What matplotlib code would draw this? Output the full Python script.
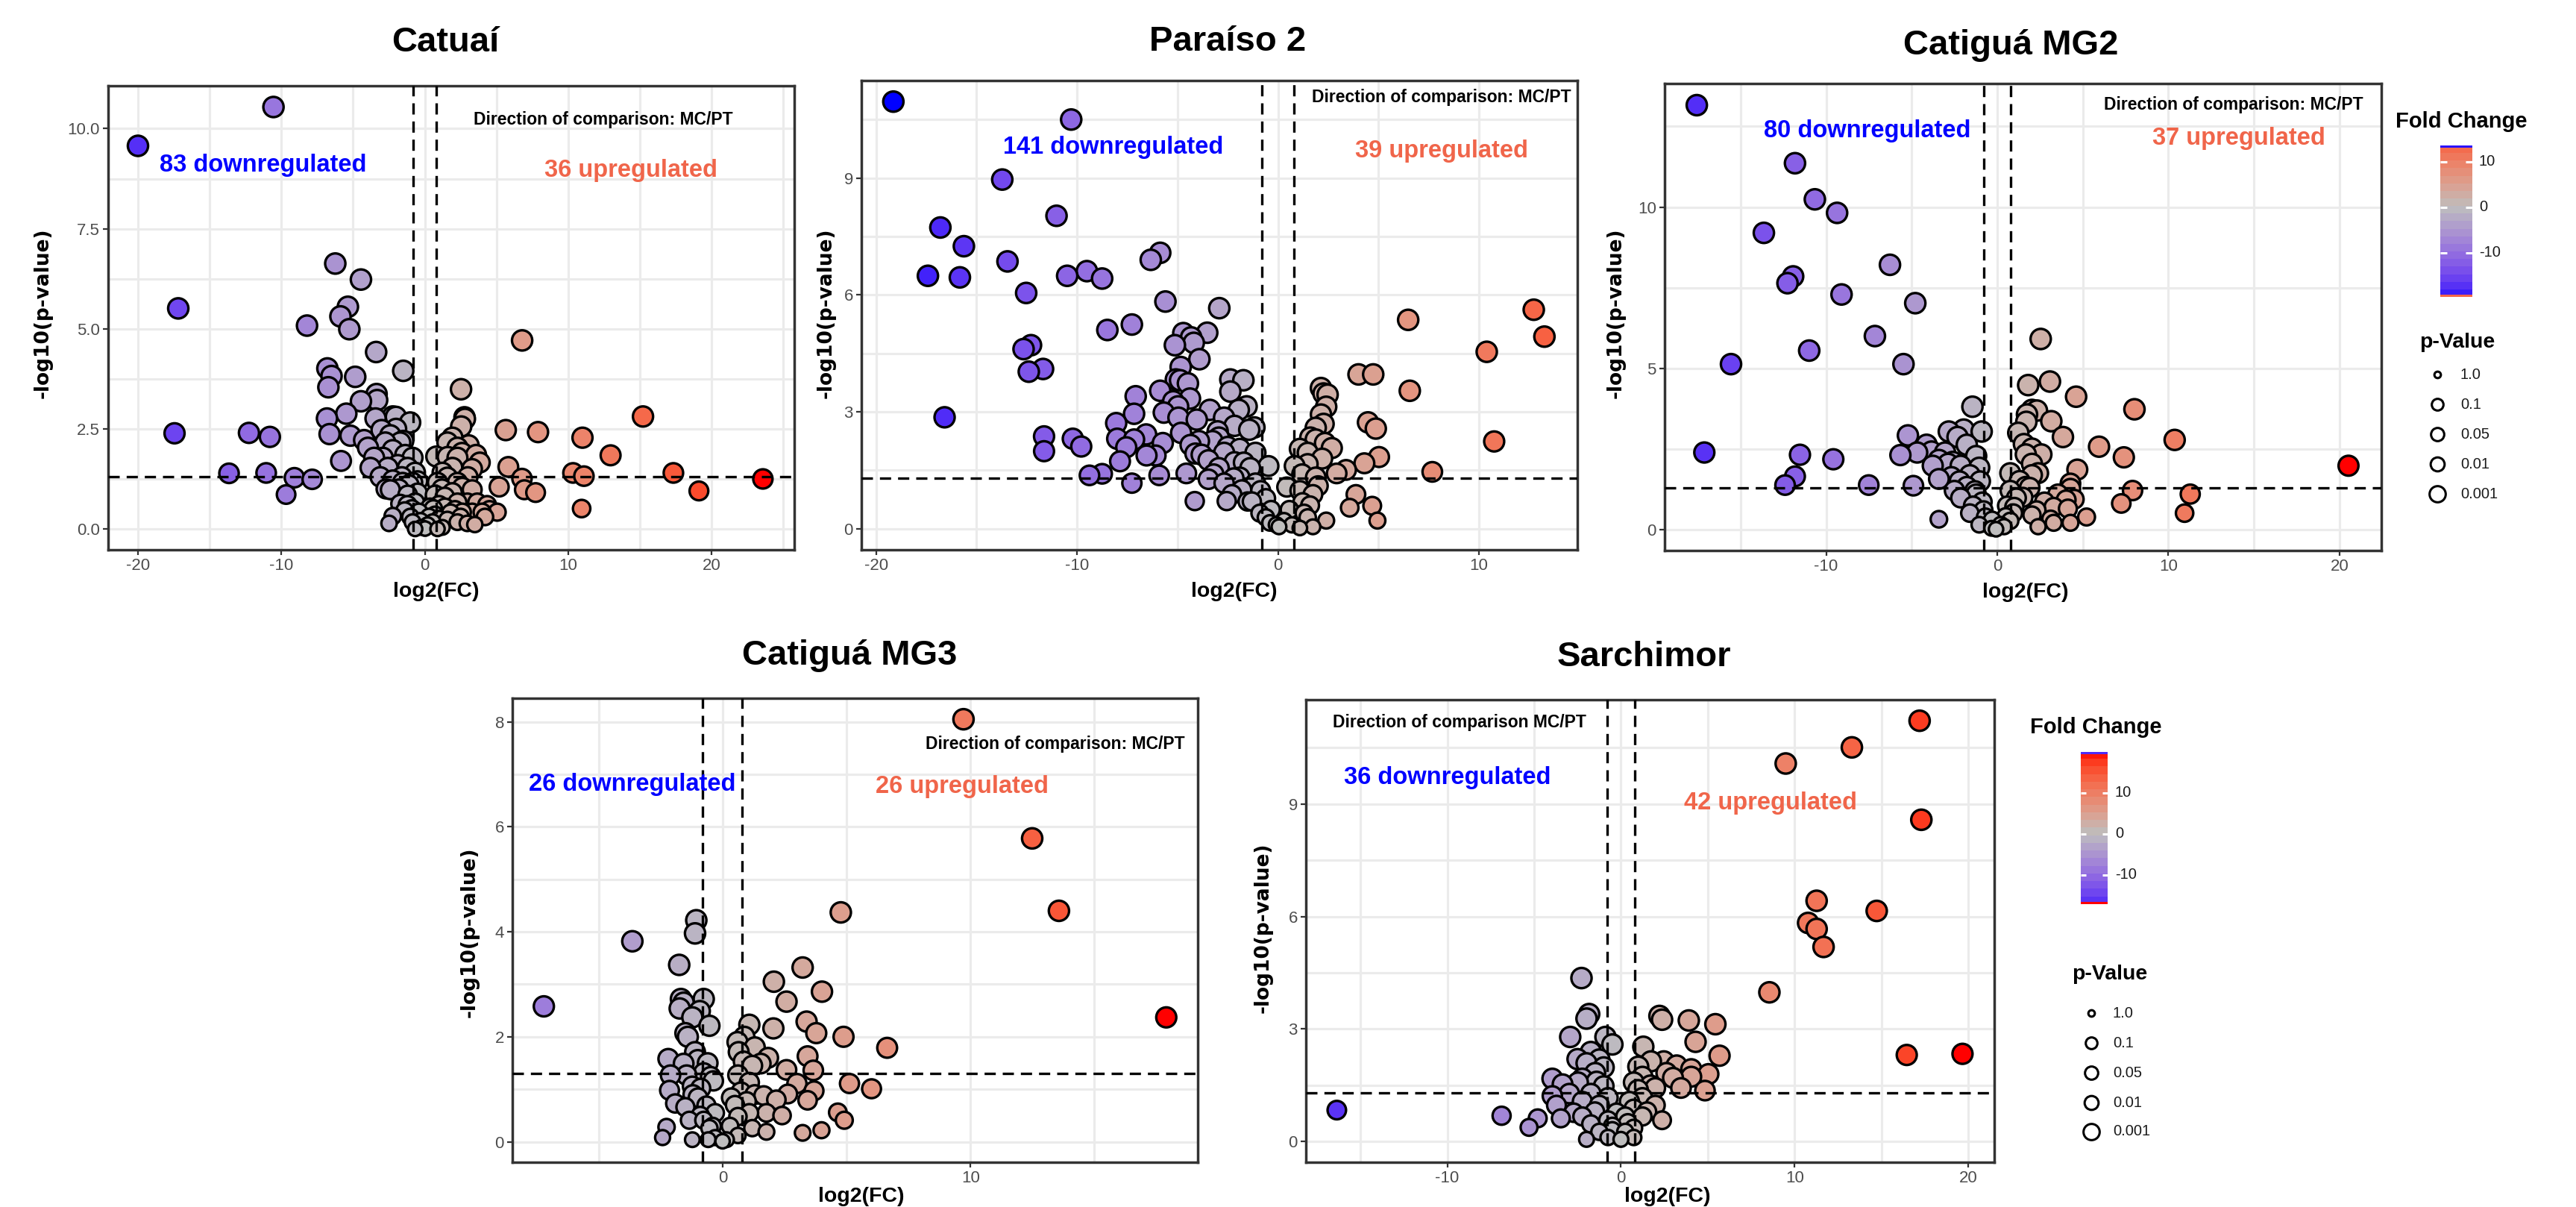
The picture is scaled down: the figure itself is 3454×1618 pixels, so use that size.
import numpy as np
import matplotlib
matplotlib.use("Agg")
import matplotlib.pyplot as plt
from matplotlib.colors import ListedColormap, Normalize

plt.rcParams['font.family'] = ['Liberation Sans', 'DejaVu Sans']

W, H, DPI = 3455, 1618, 100

# ---------------- data: log2(FC) and -log10(p-value) ----------------
catuai_fc = [-20.0, -10.55, -17.19, -17.45, -12.26, -10.80, -13.65, -11.06, -9.09, -7.85, -9.67,
             -6.24, -4.45, -5.36, -5.88, -5.26, -8.21, -3.39, -1.50, -6.79, -6.50, -4.85, -6.72,
             -3.36, -3.32, -4.45, -5.47, -6.82, -6.64, -5.18, -5.84, -3.43, -2.23, -2.01, -1.02,
             -4.23, -3.96, -3.53, -3.79, -3.01, -2.75, -2.40, -1.71, -1.36, -0.85, -2.23, -2.92,
             -2.58, -1.88, -1.19, -0.67, -2.23, -1.54, -0.85, -2.40, -1.19, -1.71, -2.23, -2.49,
             -0.67, -0.41, -0.85, -0.24, 0.02, 0.55, 0.89, -0.67, 0.37, 0.72, 0.89, 1.23, 0.80,
             1.58, 1.93, 2.28, 2.53, 2.80, 2.54, 3.06, 3.58, 3.84, 2.28, 1.93, 1.58, 2.28, 1.93,
             2.62, 3.31, 2.28, 2.97, 3.66, 4.35, 5.05, 4.52, 1.41, 1.58, 2.28, 2.97, 3.49, 1.23,
             0.72, 2.11, 2.62, 3.31, 4.00, 5.65, 7.90, 11.00, 5.83, 6.78, 6.95, 7.73, 5.19, 10.34,
             11.10, 10.94, 6.79, 15.22, 12.96, 17.34, 23.58, 19.12, 2.77, -1.80, -1.40, -0.50,
             -1.00, 0.30, 1.00, 1.20, -2.00, -1.50, -1.20,
             -1.60, -1.10, -0.90, -0.30, 0.20, 0.60, 1.00, 1.40, 1.80, 2.50, 3.00, 2.60, 3.30,
             4.20, 1.60, -2.70, -3.10, -0.50]
catuai_lp = [9.57, 10.54, 5.51, 2.39, 2.40, 2.30, 1.39, 1.40, 1.28, 1.24, 0.86,
             6.63, 6.23, 5.55, 5.31, 4.99, 5.08, 4.42, 3.95, 4.01, 3.82, 3.80, 3.54,
             3.37, 3.22, 3.19, 2.88, 2.76, 2.37, 2.33, 1.70, 2.76, 2.81, 2.80, 2.66,
             2.22, 2.03, 1.78, 1.53, 2.47, 2.16, 2.34, 2.16, 1.85, 1.78, 1.97, 1.78,
             1.53, 1.60, 1.53, 1.41, 1.22, 1.16, 1.16, 0.98, 0.85, 0.63, 0.32, 0.14,
             0.66, 0.42, 0.17, 0.04, 0.01, 0.17, 0.00, 0.00, 0.54, 0.85, 1.16, 1.41, 1.81,
             2.16, 2.28, 2.03, 3.49, 2.75, 2.56, 2.09, 1.85, 1.66, 1.78, 1.53, 1.29, 1.16, 0.91,
             1.04, 0.98, 0.66, 0.66, 0.66, 0.60, 0.42, 0.48, 0.54, 0.23, 0.17, 0.14, 0.11, 0.04,
             0.35, 0.48, 0.42, 0.42, 0.42, 2.47, 2.42, 2.28, 1.55, 1.26, 0.98, 0.91, 1.05, 1.40,
             1.32, 0.51, 4.71, 2.81, 1.84, 1.40, 1.25, 0.95, 2.79, 1.00, 0.45, 0.90,
             0.30, 0.30, 0.60, 1.00, 2.50, 2.20, 0.60,
             1.30, 1.10, 0.50, 0.20, 0.10, 0.50, 0.25, 0.80, 0.40, 0.30, 1.30, 1.90, 1.50,
             0.30, 1.80, 1.00, 1.30, 1.20]

paraiso_fc = [-19.14, -10.29, -13.72, -11.02, -16.80, -15.63, -13.46, -17.42, -15.83, -12.53, -10.49,
              -9.51, -8.75, -6.33, -5.86, -5.60, -2.92, -8.49, -7.27, -12.66, -12.29, -12.40, -11.69,
              -16.59, -11.64, -11.64, -10.21, -9.79, -9.38, -8.75, -7.27, -8.05, -8.00, -7.86, -7.16,
              -7.08, -7.55, -7.16, -6.56, -6.54, -6.09, -5.73, -5.86, -5.68, -5.91, -5.13, -4.71,
              -4.32, -4.19, -3.52, -3.91, -4.84, -4.87, -5.08, -4.48, -5.21, -4.97, -4.38, -4.95,
              -4.04, -4.82, -4.35, -3.93, -4.11, -4.56, -4.14, -3.39, -3.26, -2.37, -2.37, -1.72,
              -2.68, -1.95, -1.56, -2.16, -1.43, -1.17, -2.94, -2.68, -1.90, -1.12, -3.46, -2.94,
              -2.16, -1.38, -0.47, -3.46, -2.68, -1.90, -1.12, -2.55, -1.51, -2.29, -0.86, -0.60,
              -0.34, -0.60, -0.08, 0.05, 0.57, 0.83, 1.09, 0.44, 1.09, 1.22, 1.09, 1.74, 2.40,
              1.48, 1.74, 1.88, 1.48, 1.61, 1.88, 2.27, 2.14, 2.40, 2.14, 2.27, 2.47, 1.88, 2.34,
              2.68, 1.48, 2.92, 3.39, 4.01, 4.74, 4.48, 4.87, 4.30, 5.03, 3.88, 3.57, 4.69, 4.95,
              6.48, 6.56, 7.68, 10.39, 10.76, 12.73, 13.26,
              -3.80, -3.20, -2.20, -1.80, -1.30, -0.90, -0.40, 0.30, 0.70, 1.30, 1.60, 2.00,
              1.20, 2.20, -2.50, -3.00, -1.70]
paraiso_lp = [10.96, 10.50, 8.96, 8.03, 7.73, 7.25, 6.86, 6.49, 6.45, 6.05, 6.49,
              6.61, 6.42, 6.90, 7.08, 5.83, 5.66, 5.10, 5.24, 4.61, 4.71, 4.03, 4.10,
              2.86, 2.37, 1.99, 2.31, 2.11, 1.37, 1.41, 1.17, 2.71, 2.31, 1.73, 2.95,
              3.40, 2.09, 2.29, 2.42, 1.88, 1.88, 2.20, 3.54, 2.98, 1.37, 4.71, 5.02,
              4.91, 4.77, 5.03, 4.35, 4.15, 3.81, 3.83, 3.73, 3.27, 3.14, 3.34, 2.85,
              2.80, 2.46, 2.15, 2.25, 1.93, 1.42, 0.71, 3.05, 2.25, 3.83, 3.52, 3.81,
              2.85, 3.05, 3.14, 2.64, 2.54, 2.60, 2.34, 1.95, 2.05, 1.95, 1.76, 1.56,
              1.71, 1.56, 1.61, 1.27, 1.17, 1.32, 1.17, 0.71, 0.70, 0.88, 0.98, 0.78,
              0.49, 0.29, 0.10, 0.05, 0.49, 1.61, 2.05, 1.07, 0.98, 0.68, 0.02, 0.05, 0.21,
              0.29, 0.88, 1.32, 1.95, 2.34, 2.59, 2.69, 2.93, 3.13, 3.61, 3.47, 3.44, 2.29, 2.20,
              2.07, 1.66, 1.42, 1.51, 3.96, 3.96, 2.73, 2.57, 1.68, 1.84, 0.88, 0.54, 0.59, 0.21,
              5.36, 3.54, 1.46, 4.54, 2.24, 5.62, 4.93,
              1.90, 1.40, 1.30, 1.00, 0.70, 0.40, 0.15, 0.20, 0.10, 0.40, 0.60, 1.10,
              1.40, 1.80, 2.10, 2.50, 1.70]

mg2_fc = [-17.56, -11.82, -10.66, -9.36, -13.64, -6.27, -11.93, -12.26, -9.10, -4.79, -7.15,
          -10.99, -15.56, -5.48, -17.12, -11.53, -9.58, -11.82, -12.40, -7.51, -4.90, -3.41,
          -1.45, -0.91, -5.22, -5.66, -4.13, -4.68, -3.84, -2.83, -1.96, -2.32, -1.78, -1.23,
          -3.05, -3.41, -3.77, -2.87, -2.14, -3.41, -2.68, -1.60, -1.05, -2.50, -1.78, -1.23,
          -2.14, -1.41, -0.87, -1.60, -0.69, -1.05, -0.33, -0.07, 0.40, 0.76, 0.94, 0.58, 1.12,
          0.76, 1.67, 1.31, 2.03, 0.76, 2.39, 2.03, 1.67, 2.58, 1.56, 1.23, 2.32, 1.74, 1.70,
          3.16, 2.03, 1.81, 3.08, 4.61, 2.54, 3.84, 5.95, 7.40, 8.02, 10.37, 4.68, 4.28, 4.28,
          3.55, 2.76, 4.03, 4.50, 7.91, 11.28, 7.25, 10.95, 5.22, 4.13, 3.12, 3.30, 4.28, 2.39,
          2.03, 20.53, 2.03,
          -2.20, -1.30, -0.80, -0.30, 0.20, 0.50, 1.00, 1.50, 2.30, 3.30, -2.60, -1.00, 1.90]
mg2_lp = [13.16, 11.36, 10.24, 9.82, 9.20, 8.21, 7.85, 7.64, 7.29, 7.02, 6.00,
          5.55, 5.13, 5.13, 2.39, 2.32, 2.18, 1.65, 1.38, 1.38, 1.36, 0.32,
          3.81, 3.04, 2.92, 2.31, 2.63, 2.39, 2.42, 3.04, 3.10, 2.87, 2.63, 2.28,
          2.39, 2.16, 1.98, 2.04, 1.98, 1.57, 1.63, 1.69, 1.92, 1.21, 1.33, 1.10,
          0.98, 0.74, 0.86, 0.51, 0.39, 0.15, 0.04, 0.01, 0.09, 0.27, 0.51, 0.74, 0.98,
          1.21, 1.33, 1.51, 1.69, 1.75, 1.75, 2.04, 2.33, 2.33, 2.65, 3.00, 3.69, 3.57, 3.34,
          3.36, 3.71, 4.48, 4.59, 4.12, 5.91, 2.87, 2.57, 2.24, 3.73, 2.78, 1.86, 1.43, 1.27,
          1.10, 0.86, 0.92, 0.94, 1.21, 1.10, 0.81, 0.51, 0.39, 0.65, 0.33, 0.21, 0.21, 0.09,
          0.45, 1.98, 2.51,
          1.50, 1.20, 0.60, 0.30, 0.15, 0.40, 0.70, 1.00, 0.60, 0.70, 2.10, 1.50, 1.30]

mg3_fc = [9.72, 12.49, 13.57, 17.90, 4.77, -3.64, -7.21, -1.06, -1.11, -1.75, 3.23, 2.07, 4.01,
          2.58, 3.39, 3.78, 2.05, 4.88, 6.64, 3.43, 3.66, 2.58, 5.12, 6.01, 3.00, 3.69, 2.63,
          2.17, 3.43, 4.65, 4.91, 3.23, 3.99, 1.08, 0.88, 0.65, 0.85, 1.20, 1.84, 1.54, 0.62,
          1.08, 0.74, 0.35, 0.97, 1.66, 1.08, 0.62, 1.77, 1.20, 1.77, 0.62, 0.16, 0.00, -0.30,
          -0.53, -0.76, -0.30, -0.65, -1.22, -0.58, -0.76, -1.68, -1.57, -1.73, -0.92, -1.22,
          -0.53, -1.50, -1.40, -1.11, -2.19, -1.57, -1.00, -2.10, -1.45, -0.76, -0.48, -2.14,
          -1.22, -1.91, -0.99, -1.50, -1.34, -2.26, -2.42, -0.37, -0.88,
          -0.90, -0.40, 0.30, 0.50, 1.30, 2.40, -1.20, -0.60, 0.60, 1.30]
mg3_lp = [8.05, 5.78, 4.40, 2.37, 4.37, 3.82, 2.58, 4.22, 3.97, 3.37, 3.32, 3.05, 2.86,
          2.67, 2.29, 2.07, 2.16, 2.00, 1.79, 1.63, 1.36, 1.37, 1.11, 1.01, 1.11, 0.97, 0.91,
          0.80, 0.79, 0.56, 0.41, 0.17, 0.22, 2.23, 2.00, 1.71, 1.53, 1.45, 1.60, 1.49, 1.27,
          1.13, 0.95, 0.84, 0.77, 0.88, 0.55, 0.48, 0.55, 0.26, 0.19, 0.12, 0.04, 0.01, 0.08,
          0.26, 0.41, 0.55, 0.69, 0.04, 0.04, 2.72, 2.72, 2.65, 2.54, 2.49, 2.37,
          2.21, 2.07, 2.00, 1.71, 1.58, 1.49, 1.56, 1.27, 1.27, 1.31, 1.24, 0.98,
          1.06, 0.73, 0.84, 0.66, 0.41, 0.28, 0.08, 1.16, 1.02,
          0.50, 0.30, 0.30, 0.70, 0.90, 0.50, 0.90, 1.50, 1.90, 1.80]

sarchimor_fc = [17.20, 13.30, 9.49, 17.30, 11.27, 14.73, 10.78, 11.27, 11.67, 8.55, 16.46, 19.67,
                -16.36, -6.87, -4.79, -5.29, -2.27, -1.83, -1.98, -2.92, -0.89, -0.49, 2.22, 2.37,
                3.91, 5.44, 4.30, 5.68, 1.29, 1.73, 2.47, 3.21, 4.05, 5.04, 2.62, 4.05, 1.24, 1.98,
                3.46, 4.84, 0.74, 1.24, 1.98, 2.37, 0.74, 1.24, 0.74, 0.74, 0.00, -0.74, -1.24,
                -1.98, -1.73, -2.22, -0.74, -0.25, -1.24, -2.22, -1.73, -0.99, -2.22, -1.48, -1.98,
                -1.24, -1.73, -0.99, -3.95, -3.36, -3.95, -3.71, -3.46, -2.72, -2.97, -2.47, -0.74,
                -0.49, 0.25, 0.25, 0.49, 0.99,
                -1.50, -0.50, 0.40, 1.50, -1.40, -2.50, 1.00, 1.70, 3.00]
sarchimor_lp = [11.22, 10.51, 10.08, 8.58, 6.42, 6.15, 5.83, 5.67, 5.19, 3.98, 2.31, 2.34,
                0.84, 0.69, 0.62, 0.38, 4.36, 3.40, 3.28, 2.79, 2.79, 2.59, 3.35, 3.25,
                3.23, 3.13, 2.66, 2.29, 2.53, 2.14, 2.14, 2.03, 1.93, 1.80, 1.83, 1.73, 1.73, 1.43,
                1.43, 1.36, 1.58, 1.17, 0.97, 0.57, 0.87, 0.67, 0.36, 0.11, 0.06, 0.11, 0.26,
                0.06, 0.47, 0.67, 0.57, 0.77, 0.97, 1.07, 1.28, 1.48, 1.68, 1.83, 2.09,
                2.19, 2.39, 1.98, 1.68, 1.53, 1.22, 0.97, 0.62, 0.77, 1.28, 1.58, 1.17,
                0.41, 0.26, 0.67, 1.07, 1.38,
                0.80, 0.30, 0.50, 0.80, 1.60, 2.20, 2.00, 1.50, 1.70]

titles = ["Catuaí", "Paraíso 2", "Catiguá MG2", "Catiguá MG3", "Sarchimor"]
down_labels = ["83 downregulated", "141 downregulated", "80 downregulated", "26 downregulated", "36 downregulated"]
up_labels = ["36 upregulated", "39 upregulated", "37 upregulated", "26 upregulated", "42 upregulated"]
direction_labels = ["Direction of comparison: MC/PT"] * 4 + ["Direction of comparison MC/PT"]
pvalue_breaks = ["1.0", "0.1", "0.05", "0.01", "0.001"]
fc_breaks = [10, 0, -10]

# ---------------- colour scale (Lab interpolation blue - grey - red) ----------------
M = np.array([[0.4124564, 0.3575761, 0.1804375],
              [0.2126729, 0.7151522, 0.0721750],
              [0.0193339, 0.1191920, 0.9503041]])
Minv = np.linalg.inv(M)
WHITE = np.array([0.95047, 1.0, 1.08883])


def srgb_to_lab(rgb):
    rgb = np.asarray(rgb, float)
    lin = np.where(rgb <= 0.04045, rgb / 12.92, ((rgb + 0.055) / 1.055) ** 2.4)
    xyz = (M @ lin) / WHITE
    f = np.where(xyz > 0.008856, np.cbrt(xyz), 7.787 * xyz + 16 / 116)
    return np.array([116 * f[1] - 16, 500 * (f[0] - f[1]), 200 * (f[1] - f[2])])


def lab_to_srgb(lab):
    L, a, b = lab
    fy = (L + 16) / 116
    f = np.array([fy + a / 500, fy, fy - b / 200])
    xyz = np.where(f ** 3 > 0.008856, f ** 3, (f - 16 / 116) / 7.787) * WHITE
    lin = np.clip(Minv @ xyz, 0, 1)
    return np.clip(np.where(lin <= 0.0031308, 12.92 * lin, 1.055 * lin ** (1 / 2.4) - 0.055), 0, 1)


LAB_BLUE = srgb_to_lab([0, 0, 1])
LAB_GREY = srgb_to_lab(np.array([190, 190, 190]) / 255)
LAB_RED = srgb_to_lab([1, 0, 0])
cols = []
for t in np.linspace(-1, 1, 513):
    lab = LAB_GREY + (LAB_BLUE - LAB_GREY) * (-t) if t < 0 else LAB_GREY + (LAB_RED - LAB_GREY) * t
    cols.append(lab_to_srgb(lab))
CMAP = ListedColormap(cols)

# ---------------- figure ----------------
fig = plt.figure(figsize=(W / DPI, H / DPI), dpi=DPI)
fig.patch.set_facecolor("white")


def rect(l, t, r, b):
    return [l / W, 1 - b / H, (r - l) / W, (b - t) / H]


EDGE_PT = 2.4
EDGE_PX = EDGE_PT / 0.72


def point_size(lp):
    d = 22.5 + 8 * (1 - np.exp(-np.asarray(lp) / 0.7))
    return ((d - EDGE_PX) * 0.72) ** 2


panels = [
    dict(box=(145, 115, 1065, 737), xlim=(-22.08, 25.77), ylim=(-0.52, 11.07),
         xmaj=[-20, -10, 0, 10, 20], xmin=[-15, -5, 5, 15, 25],
         ymaj=[0, 2.5, 5, 7.5, 10], ymin=[1.25, 3.75, 6.25, 8.75], yfmt="{:.1f}",
         down=(-11.3, 9.08), up=(14.4, 8.96), dirn=(12.45, 10.22),
         title=(597, 57), ylab=(58, 420), xlab=(585, 780)),
    dict(box=(1155, 108, 2115, 737), xlim=(-20.73, 14.9), ylim=(-0.54, 11.5),
         xmaj=[-20, -10, 0, 10], xmin=[-15, -5, 5],
         ymaj=[0, 3, 6, 9], ymin=[1.5, 4.5, 7.5, 10.5], yfmt="{:.0f}",
         down=(-8.2, 9.79), up=(8.13, 9.70), dirn=(8.13, 11.06),
         title=(1646, 56), ylab=(1108, 420), xlab=(1655, 780)),
    dict(box=(2232, 112, 3193, 738), xlim=(-19.44, 22.45), ylim=(-0.65, 13.83),
         xmaj=[-10, 0, 10, 20], xmin=[-15, -5, 5, 15],
         ymaj=[0, 5, 10], ymin=[2.5, 7.5, 12.5], yfmt="{:.0f}",
         down=(-7.58, 12.36), up=(14.1, 12.12), dirn=(13.8, 13.18),
         title=(2696, 61), ylab=(2167, 420), xlab=(2716, 781)),
    dict(box=(687, 936, 1606, 1558), xlim=(-8.48, 19.17), ylim=(-0.39, 8.45),
         xmaj=[0, 10], xmin=[-5, 5, 15],
         ymaj=[0, 2, 4, 6, 8], ymin=[1, 3, 5, 7], yfmt="{:.0f}",
         down=(-3.64, 6.81), up=(9.66, 6.77), dirn=(13.41, 7.57),
         title=(1139, 879), ylab=(630, 1250), xlab=(1155, 1591)),
    dict(box=(1751, 938, 2674, 1558), xlim=(-18.14, 21.5), ylim=(-0.55, 11.78),
         xmaj=[-10, 0, 10, 20], xmin=[-15, -5, 5, 15],
         ymaj=[0, 3, 6, 9], ymin=[1.5, 4.5, 7.5, 10.5], yfmt="{:.0f}",
         down=(-10.0, 9.71), up=(8.6, 9.02), dirn=(-9.3, 11.17),
         title=(2204, 881), ylab=(1694, 1244), xlab=(2236, 1591)),
]
series = [(catuai_fc, catuai_lp), (paraiso_fc, paraiso_lp), (mg2_fc, mg2_lp),
          (mg3_fc, mg3_lp), (sarchimor_fc, sarchimor_lp)]

FRAME = "#333333"
UP_COLOR = "#F0654A"
DASH = (0, (4.5, 2.8))

for i, (cfg, (fc, lp)) in enumerate(zip(panels, series)):
    ax = fig.add_axes(rect(*cfg["box"]))
    fc = np.asarray(fc, float)
    lp = np.asarray(lp, float)
    lim = np.abs(fc).max()
    order = np.argsort(-lp)
    ax.scatter(fc[order], lp[order], s=point_size(lp[order]), c=fc[order], cmap=CMAP,
               norm=Normalize(-lim, lim), edgecolors="black", linewidths=EDGE_PT, zorder=3)
    ax.axvline(-0.8, color="black", lw=2.4, ls=DASH, zorder=4)
    ax.axvline(0.8, color="black", lw=2.4, ls=DASH, zorder=4)
    ax.axhline(-np.log10(0.05), color="black", lw=2.4, ls=DASH, zorder=4)
    ax.set_xlim(*cfg["xlim"])
    ax.set_ylim(*cfg["ylim"])
    ax.set_xticks(cfg["xmaj"])
    ax.set_xticks(cfg["xmin"], minor=True)
    ax.set_yticks(cfg["ymaj"])
    ax.set_yticks(cfg["ymin"], minor=True)
    ax.set_yticklabels([cfg["yfmt"].format(v) for v in cfg["ymaj"]])
    ax.set_xticklabels([str(v) for v in cfg["xmaj"]])
    ax.set_axisbelow(True)
    ax.grid(which="both", color="#EBEBEB", lw=2.3)
    ax.tick_params(which="major", length=5, width=1.6, color=FRAME, labelsize=16,
                   labelcolor="#4D4D4D", pad=3)
    ax.tick_params(which="minor", length=0)
    for sp in ax.spines.values():
        sp.set_color(FRAME)
        sp.set_linewidth(2.5)
    ax.text(*cfg["down"], down_labels[i], color="#0000FF", fontsize=23.5, fontweight="bold",
            ha="center", va="center", zorder=5)
    ax.text(*cfg["up"], up_labels[i], color=UP_COLOR, fontsize=23.5, fontweight="bold",
            ha="center", va="center", zorder=5)
    ax.text(*cfg["dirn"], direction_labels[i], color="black", fontsize=16.5, fontweight="bold",
            ha="center", va="center", zorder=5)

# overlay axes in pixel coordinates for free text and legends
ov = fig.add_axes([0, 0, 1, 1])
ov.set_xlim(0, W)
ov.set_ylim(H, 0)
ov.axis("off")
ov.patch.set_alpha(0)

for i, cfg in enumerate(panels):
    ov.text(*cfg["title"], titles[i], fontsize=34, fontweight="bold", ha="center", va="center")
    ov.text(*cfg["ylab"], "-log10(p-value)", fontsize=19, fontweight="bold", ha="center",
            va="center", rotation=90, family="DejaVu Sans")
    ov.text(*cfg["xlab"], "log2(FC)", fontsize=20.5, fontweight="bold", ha="center", va="top")


def fc_legend(title_xy, bar_box, vtop, vbot, lim, label_x):
    ov.text(*title_xy, "Fold Change", fontsize=21, fontweight="bold", ha="center", va="center")
    l, t, r, b = bar_box
    cax = fig.add_axes(rect(l, t, r, b))
    nb = 20
    edges = np.linspace(vbot, vtop, nb + 1)
    centers = ((edges[:-1] + edges[1:]) / 2)[::-1].reshape(-1, 1)
    cax.imshow(centers, cmap=CMAP, norm=Normalize(-lim, lim), aspect="auto",
               extent=(0, 1, vbot, vtop), interpolation="nearest")
    band = (vtop - vbot) * 3 / (b - t)
    norm = Normalize(-lim, lim)
    cax.axhspan(vtop - band, vtop, color=CMAP(norm(vbot)), lw=0)
    cax.axhspan(vbot, vbot + band, color=CMAP(norm(vtop)), lw=0)
    for tk in fc_breaks:
        cax.plot([0, 0.2], [tk, tk], color="white", lw=2.2, solid_capstyle="butt")
        cax.plot([0.8, 1], [tk, tk], color="white", lw=2.2, solid_capstyle="butt")
        ypx = t + (vtop - tk) / (vtop - vbot) * (b - t)
        ov.text(label_x, ypx, str(tk), fontsize=14.5, ha="left", va="center", color="#1A1A1A")
    cax.set_xlim(0, 1)
    cax.set_ylim(vbot, vtop)
    cax.axis("off")


def p_legend(title_xy, circ_x, label_x, ys):
    ov.text(*title_xy, "p-Value", fontsize=20.5, fontweight="bold", ha="left", va="center")
    vis = [12, 19, 21, 22, 25]
    for lab, y, d in zip(pvalue_breaks, ys, vis):
        ov.scatter([circ_x], [y], s=((d - EDGE_PX) * 0.72) ** 2, facecolors="white",
                   edgecolors="black", linewidths=2.2)
        ov.text(label_x, y, lab, fontsize=14.5, ha="left", va="center", color="#1A1A1A")


fc_legend((3300, 163), (3272, 195, 3315, 398), 13.6, -19.7, np.abs(mg2_fc).max(), 3324)
p_legend((3244, 459), 3268, 3299, [502, 542, 582, 622, 662])
fc_legend((2810, 975), (2790, 1008, 2826, 1212), 20.0, -17.1, np.abs(sarchimor_fc).max(), 2836)
p_legend((2778, 1306), 2804, 2833, [1358, 1398, 1438, 1478, 1517])

fig.savefig("out.png", dpi=DPI, facecolor="white")
